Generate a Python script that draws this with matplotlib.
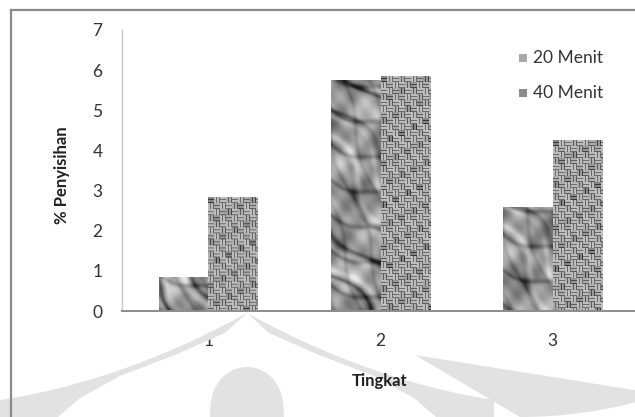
import numpy as np
import matplotlib
matplotlib.use('Agg')
import matplotlib.pyplot as plt
from matplotlib.patches import Polygon, Rectangle
from matplotlib.lines import Line2D

plt.rcParams['font.family'] = ['Lato', 'DejaVu Sans']

tingkat = [1, 2, 3]
menit20 = [0.84, 5.74, 2.58]
menit40 = [2.82, 5.85, 4.25]
series_labels = ['20 Menit', '40 Menit']
yticks = [0, 1, 2, 3, 4, 5, 6, 7]

W, H = 635, 417
fig = plt.figure(figsize=(W / 100, H / 100), dpi=100)

def px(x, y):
    # figure pixel (top-left origin) -> figure fraction
    return x / W, 1 - y / H

# faint watermark behind the chart
wm = '#e2e2e2'
def ogee(dx):
    return 313 + 0.55 * abs(dx) - 0.0008 * dx ** 2

inner_pts = [(58, 417), (80, 398), (120, 376), (175, 355), (225, 333)]

outer_left = [px(x, ogee(x - 247)) for x in np.linspace(247, 0, 40)]
left_wing = outer_left + [px(0, 417)] + [px(x, y) for x, y in inner_pts]
fig.patches.append(Polygon(left_wing, closed=True, fc=wm, ec='none', transform=fig.transFigure, zorder=0))

outer_right = [px(x, ogee(x - 247)) for x in np.linspace(247, 494, 40)]
right_wing = outer_right + [px(494, 417)] + [px(494 - x, y) for x, y in inner_pts]
fig.patches.append(Polygon(right_wing, closed=True, fc=wm, ec='none', transform=fig.transFigure, zorder=0))

t = np.linspace(0, np.pi, 30)
dome = [px(247 + 37 * np.cos(a), 417 - 50 * np.sin(a) ** 0.8) for a in t]
fig.patches.append(Polygon(dome, closed=True, fc=wm, ec='none', transform=fig.transFigure, zorder=0))

xs = np.linspace(415, 635, 30)
crescent = [px(x, 355 + 0.16 * (x - 415)) for x in xs]
crescent += [px(x, 417 - 0.0011 * (x - 520) ** 2) for x in np.linspace(635, 520, 20)]
fig.patches.append(Polygon(crescent, closed=True, fc=wm, ec='none', transform=fig.transFigure, zorder=0))

# chart frame (only top and left edges fall inside the picture)
fig.lines.append(Line2D([11 / W, 11 / W], [1 - 10 / H, 0], color='#8a8a8a', lw=1.6, transform=fig.transFigure))
fig.lines.append(Line2D([11 / W, 1], [1 - 10 / H, 1 - 10 / H], color='#8a8a8a', lw=1.6, transform=fig.transFigure))

ax_l, ax_b = 122 / W, 1 - 311 / H
ax_w, ax_h = (639 - 122) / W, 281 / H
ax = fig.add_axes([ax_l, ax_b, ax_w, ax_h])
ax.patch.set_alpha(0)

ppx = ax_w * W / 3.0   # pixels per category unit
ppy = ax_h * H / 7.0   # pixels per y unit


def crumpled(hp, wp, seed=0.0):
    yy, xx = np.mgrid[0:hp, 0:wp].astype(float)
    yy = yy + 37 * seed
    v = 0.60 + 0.08 * np.sin(0.09 * xx + 0.05 * yy + seed) + 0.07 * np.sin(0.04 * xx - 0.11 * yy + 1.3)
    v += 0.05 * np.sin(0.23 * xx + 0.19 * yy + 2.0) + 0.04 * np.sin(0.31 * xx - 0.27 * yy + 0.4)
    # creases running down to the right
    c1 = np.sin(0.07 * xx - 0.055 * yy + 1.1 * np.sin(0.04 * yy + 0.03 * xx))
    c2 = np.sin(0.05 * xx - 0.09 * yy + 0.9 * np.sin(0.06 * xx + 1.0) + 2.1)
    c3 = np.sin(0.12 * xx - 0.04 * yy + 0.7 * np.sin(0.05 * yy + 2.0) + 0.5)
    v -= 0.28 * np.exp(-(c1 ** 2) / 0.05) * (0.6 + 0.4 * np.sin(0.03 * yy + 0.7))
    v -= 0.18 * np.exp(-(c2 ** 2) / 0.06)
    v -= 0.10 * np.exp(-(c3 ** 2) / 0.08)
    v += 0.12 * np.exp(-((c1 - 0.6) ** 2) / 0.05)
    return np.clip(v, 0.12, 0.9)


def woven(hp, wp):
    yy, xx = np.mgrid[0:hp, 0:wp]
    bi, bj = yy // 6, xx // 6
    horiz = (bi + bj) % 2 == 0
    stripe = np.where(horiz, yy % 3, xx % 3)
    v = np.where(stripe == 2, 0.42, 0.74)
    v = v - 0.15 * ((bi * 3 + bj * 5) % 7 == 0) - 0.06 * ((bi + 2 * bj) % 3 == 0)
    return v


bw = 0.288
for k, (xc, h20, h40) in enumerate(zip(tingkat, menit20, menit40)):
    wp = int(round(bw * ppx))
    ax.imshow(crumpled(int(round(h20 * ppy)), wp, seed=k), cmap='gray', vmin=0, vmax=1,
              extent=(xc - bw, xc, 0, h20), aspect='auto', interpolation='bilinear', zorder=2)
    ax.imshow(woven(int(round(h40 * ppy)), wp), cmap='gray', vmin=0, vmax=1,
              extent=(xc, xc + bw, 0, h40), aspect='auto', interpolation='bilinear', zorder=2)

ax.set_xlim(0.5, 3.5)
ax.set_ylim(0, 7)
ax.set_xticks(tingkat)
ax.set_yticks(yticks)
ax.tick_params(length=0, labelsize=12.5, colors='#333333')
ax.tick_params(axis='y', pad=14)
ax.tick_params(axis='x', pad=16)
for s in ['top', 'right']:
    ax.spines[s].set_visible(False)
ax.spines['left'].set_color('#c8c8c8')
ax.spines['left'].set_linewidth(1.0)
ax.spines['bottom'].set_color('#8c8c8c')
ax.spines['bottom'].set_linewidth(1.4)
ax.spines['bottom'].set_zorder(3)

fig.text(*px(62, 175), '% Penyisihan', rotation=90, ha='center', va='center',
         fontsize=12, fontweight='bold', color='#222222')
fig.text(*px(380, 381), 'Tingkat', ha='center', va='center',
         fontsize=12, fontweight='bold', color='#222222')

# legend
for i, (lab, col) in enumerate(zip(series_labels, ['#a8a8a8', '#8c8c8c'])):
    yc = 58 + 35 * i
    lx, ly = px(519, yc + 4)
    fig.patches.append(Rectangle((lx, ly), 8 / W, 8 / H, fc=col, ec='none', transform=fig.transFigure))
    fig.text(*px(533, yc), lab, ha='left', va='center', fontsize=12.5, color='#333333')

fig.savefig('out.png', dpi=100)
